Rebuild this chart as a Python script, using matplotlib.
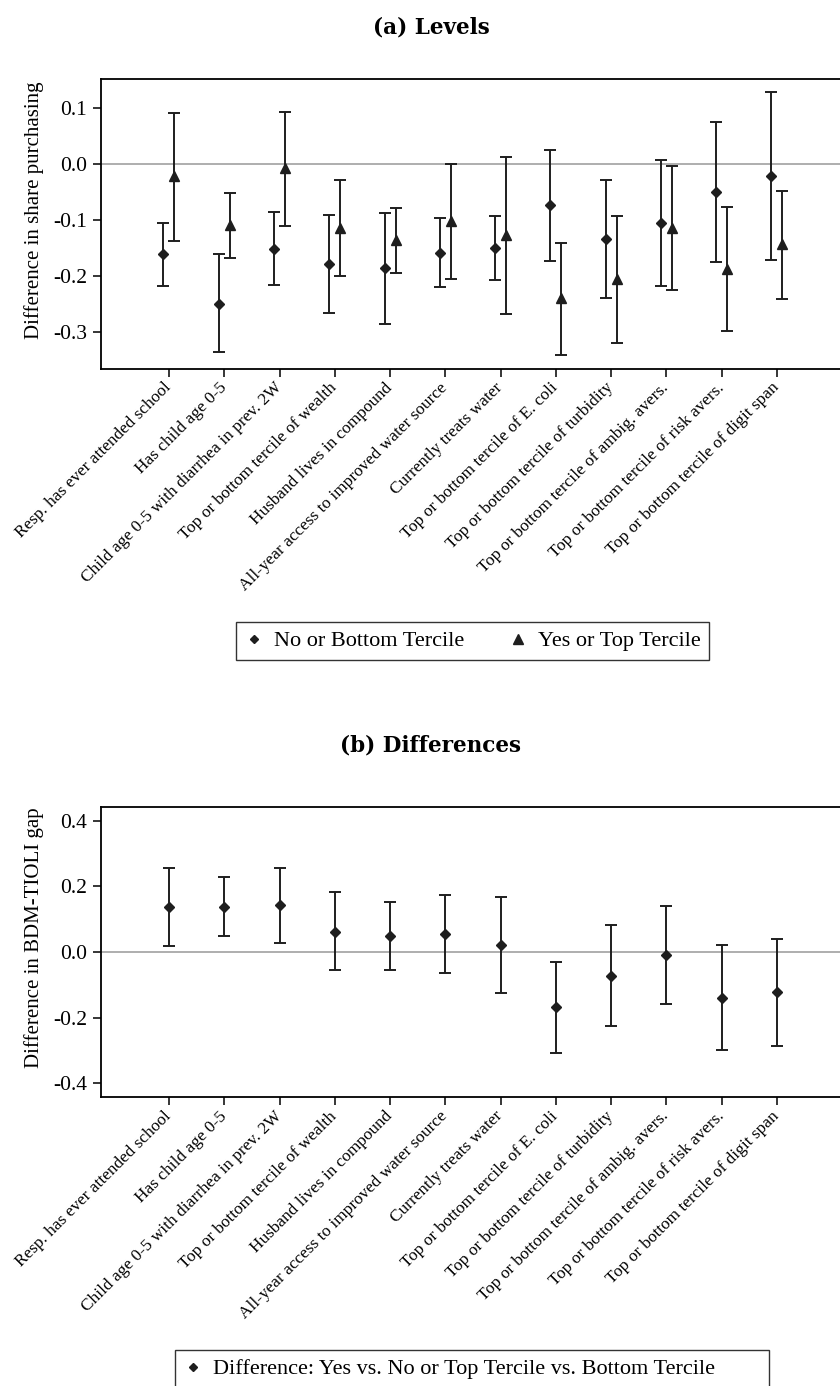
import numpy as np
import matplotlib.pyplot as plt
from matplotlib.lines import Line2D

plt.rcParams['font.family'] = ['Liberation Serif', 'DejaVu Serif']

labels = ['Resp. has ever attended school', 'Has child age 0-5',
          'Child age 0-5 with diarrhea in prev. 2W', 'Top or bottom tercile of wealth',
          'Husband lives in compound', 'All-year access to improved water source',
          'Currently treats water', 'Top or bottom tercile of E. coli',
          'Top or bottom tercile of turbidity', 'Top or bottom tercile of ambig. avers.',
          'Top or bottom tercile of risk avers.', 'Top or bottom tercile of digit span']

# panel (a): No or Bottom Tercile
no_est = [-0.161, -0.250, -0.152, -0.179, -0.187, -0.159, -0.150, -0.074, -0.134, -0.106, -0.051, -0.022]
no_lo = [-0.218, -0.337, -0.217, -0.266, -0.287, -0.220, -0.207, -0.173, -0.239, -0.219, -0.175, -0.171]
no_hi = [-0.105, -0.162, -0.086, -0.092, -0.087, -0.096, -0.094, 0.025, -0.029, 0.007, 0.074, 0.128]

# panel (a): Yes or Top Tercile
yes_est = [-0.022, -0.110, -0.007, -0.115, -0.137, -0.102, -0.127, -0.239, -0.205, -0.114, -0.188, -0.144]
yes_lo = [-0.138, -0.169, -0.111, -0.201, -0.195, -0.205, -0.269, -0.342, -0.320, -0.226, -0.299, -0.241]
yes_hi = [0.091, -0.053, 0.093, -0.029, -0.079, 0.000, 0.012, -0.141, -0.093, -0.004, -0.078, -0.049]

# panel (b): difference
diff_est = [0.137, 0.138, 0.142, 0.062, 0.050, 0.055, 0.021, -0.169, -0.074, -0.009, -0.140, -0.123]
diff_lo = [0.017, 0.050, 0.026, -0.056, -0.056, -0.063, -0.126, -0.307, -0.227, -0.158, -0.298, -0.286]
diff_hi = [0.256, 0.227, 0.256, 0.182, 0.153, 0.174, 0.169, -0.030, 0.081, 0.139, 0.020, 0.039]

ink = '#1e1e1e'
x = np.arange(1, len(labels) + 1)


def errbars(ax, xs, est, lo, hi, marker, ms):
    est = np.array(est)
    yerr = [est - np.array(lo), np.array(hi) - est]
    ax.errorbar(xs, est, yerr=yerr, fmt=marker, color=ink, ecolor=ink, ms=ms,
                elinewidth=1.4, capsize=4, capthick=1.4, zorder=3)


def style(ax, ylim, yticks, ylabel):
    ax.axhline(0, color='#a8a8a8', lw=1.3, zorder=1)
    ax.set_xlim(-0.23, 13.23)
    ax.set_ylim(*ylim)
    ax.set_yticks(yticks)
    ax.set_yticklabels(['{:.1f}'.format(v) for v in yticks], fontsize=15.5)
    ax.set_xticks(x)
    ax.set_xticklabels(labels, rotation=45, ha='right', va='center',
                       rotation_mode='anchor', fontsize=12.4)
    ax.tick_params(axis='both', length=6, width=1.1, color='black', pad=4)
    ax.tick_params(axis='x', pad=6)
    for s in ax.spines.values():
        s.set_linewidth(1.3)
        s.set_color('black')
    ax.set_ylabel(ylabel, fontsize=15)
    ax.yaxis.set_label_coords(-0.076, 0.548)


fig = plt.figure(figsize=(8.4, 13.86), dpi=100)

ax1 = fig.add_axes([0.1202, 0.734, 0.8857, 0.2092])
errbars(ax1, x - 0.1, no_est, no_lo, no_hi, 'D', 5.5)
errbars(ax1, x + 0.1, yes_est, yes_lo, yes_hi, '^', 7.5)
style(ax1, (-0.366, 0.152), [0.1, 0.0, -0.1, -0.2, -0.3], 'Difference in share purchasing')
fig.text(0.513, 0.9805, '(a) Levels', ha='center', va='center', fontsize=15.5,
         fontweight='bold', family='DejaVu Serif')

h1 = [Line2D([], [], marker='D', ls='none', color=ink, ms=4.5),
      Line2D([], [], marker='^', ls='none', color=ink, ms=6.5)]
leg1 = fig.legend(h1, ['No or Bottom Tercile', 'Yes or Top Tercile'], ncol=2,
                  loc='center', bbox_to_anchor=(0.563, 0.5375), fontsize=16,
                  frameon=True, fancybox=False, edgecolor='black', handlelength=0.8,
                  handletextpad=0.5, columnspacing=2.0, borderpad=0.4)
leg1.get_frame().set_linewidth(1.0)

ax2 = fig.add_axes([0.1202, 0.2083, 0.8857, 0.2095])
errbars(ax2, x, diff_est, diff_lo, diff_hi, 'D', 5.5)
style(ax2, (-0.443, 0.442), [0.4, 0.2, 0.0, -0.2, -0.4], 'Difference in BDM-TIOLI gap')
fig.text(0.513, 0.4618, '(b) Differences', ha='center', va='center', fontsize=15.5,
         fontweight='bold', family='DejaVu Serif')

h2 = [Line2D([], [], marker='D', ls='none', color=ink, ms=4.5)]
leg2 = fig.legend(h2, ['Difference: Yes vs. No or Top Tercile vs. Bottom Tercile'],
                  loc='upper left', mode='expand',
                  bbox_to_anchor=(175 / 840, 0, 594 / 840, 1 - 1350 / 1386), fontsize=16,
                  frameon=True, fancybox=False, edgecolor='black', handlelength=0.8,
                  handletextpad=0.5, borderpad=0.4, borderaxespad=0)
leg2.get_frame().set_linewidth(1.0)

fig.savefig('out.png', dpi=100)
